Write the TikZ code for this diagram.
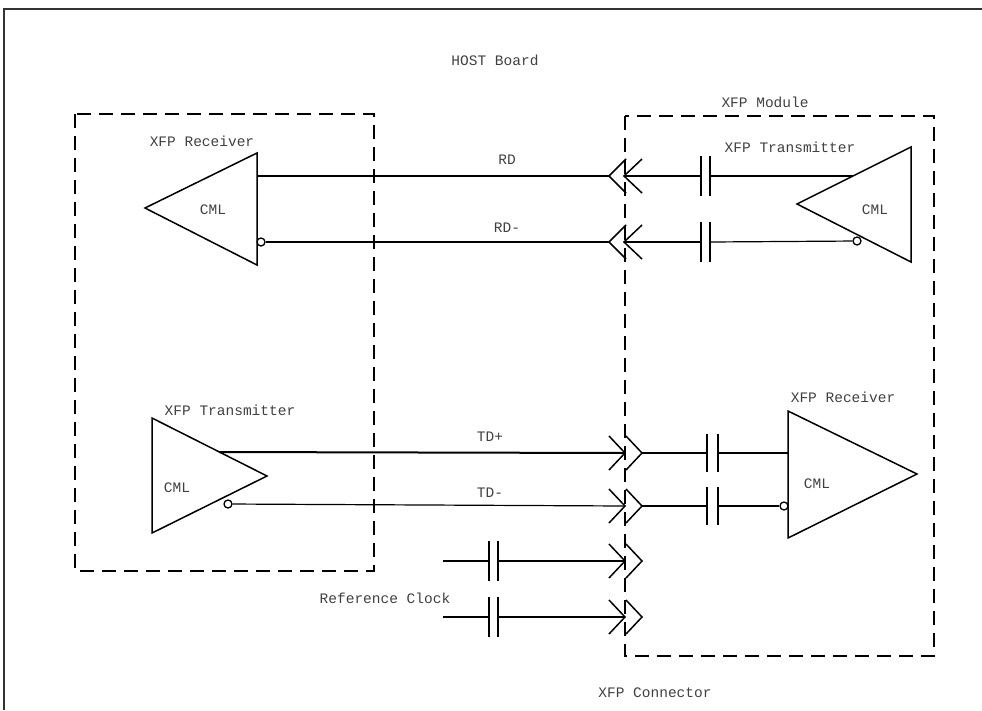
\documentclass[tikz,border=0pt]{standalone}
\usepackage{fontspec}
\setmonofont{Liberation Mono}
\usetikzlibrary{calc}
\begin{document}
\begin{tikzpicture}[x=1pt,y=-1pt,
  lbl/.style={font=\ttfamily\fontsize{14.5}{15}\selectfont, text=black!75, inner sep=0pt},
  frame/.style={line width=1.6pt, draw=black!80},
  dbox/.style={line width=1.8pt, dash pattern=on 14pt off 8pt},
  tri/.style={line width=1.5pt, line join=miter},
  wire/.style={line width=1.2pt},
  wthick/.style={line width=2pt},
  capplate/.style={line width=1.6pt},
  chev/.style={line width=1.5pt},
  bub/.style={circle, draw, line width=1.3pt, minimum size=8pt, inner sep=0pt, fill=white}]
\useasboundingbox (0,0) rectangle (982,710);
% outer frame (top and left only, cropped)
\draw[frame] (4,710) -- (4,9) -- (982,9);
% dashed boxes
\draw[dbox] (75,114) rectangle (374,571);
\draw[dbox] (625,116) rectangle (934,656);
% labels
\node[lbl] (host) at (495,60) {HOST Board};
\node[lbl] (mod) at (765,102) {XFP Module};
\node[lbl] (conn) at (655,693) {XFP Connector};
\node[lbl] (lrl) at (202,141) {XFP Receiver};
\node[lbl] (rtl) at (790,147) {XFP Transmitter};
\node[lbl] (ltl) at (230,410) {XFP Transmitter};
\node[lbl] (rrl) at (843,397) {XFP Receiver};
\node[lbl] (rd) at (507,160) {RD};
\node[lbl] (rdm) at (507,228) {RD-};
\node[lbl] (tdp) at (490,437) {TD+};
\node[lbl] (tdm) at (490,493) {TD-};
\node[lbl] (refc) at (385,598) {Reference Clock};
% ---- Left receiver (points left)
\coordinate (lrA) at (145,208);
\coordinate (lrT) at (257,153);
\coordinate (lrB) at (257,265);
\draw[tri] (lrA) -- (lrT) -- (lrB) -- cycle;
\node[lbl] (lrc) at (213,210) {CML};
\coordinate (lrP) at (257,176);
\node[bub] (lrN) at (261,242) {};
% ---- Right transmitter (points left)
\coordinate (rtA) at (797,204);
\coordinate (rtT) at (911,147);
\coordinate (rtB) at (911,262);
\draw[tri] (rtA) -- (rtT) -- (rtB) -- cycle;
\node[lbl] (rtc) at (875,210) {CML};
\coordinate (rtP) at (853,176);
\node[bub] (rtN) at (857,241) {};
% ---- Left transmitter (points right)
\coordinate (ltA) at (267,476);
\coordinate (ltT) at (152,418);
\coordinate (ltB) at (152,533);
\draw[tri] (ltA) -- (ltT) -- (ltB) -- cycle;
\node[lbl] (ltc) at (177,488) {CML};
\coordinate (ltP) at (219,452);
\node[bub] (ltN) at (228,504) {};
% ---- Right receiver (points right)
\coordinate (rrA) at (917,474);
\coordinate (rrT) at (788,411);
\coordinate (rrB) at (788,538);
\draw[tri] (rrA) -- (rrT) -- (rrB) -- cycle;
\node[lbl] (rrc) at (817,484) {CML};
\coordinate (rrP) at (788,453);
\node[bub] (rrN) at (784,506) {};
% ---- RD lines (leftward, << chevrons)
\foreach \y/\nm/\st in {176/rdp/wthick, 242/rdn/wire}{
  \coordinate (\nm c1) at (609,\y);
  \coordinate (\nm c2) at (624,\y);
  \coordinate (\nm k1) at (701,\y);
  \coordinate (\nm k2) at (710,\y);
  \draw[chev] ($(\nm c1)+(17,-17)$) -- (\nm c1) -- ($(\nm c1)+(17,17)$);
  \draw[chev] ($(\nm c2)+(18,-17)$) -- (\nm c2) -- ($(\nm c2)+(18,17)$);
  \draw[capplate] ($(\nm k1)+(0,-20)$) -- ($(\nm k1)+(0,20)$);
  \draw[capplate] ($(\nm k2)+(0,-20)$) -- ($(\nm k2)+(0,20)$);
  \draw[\st] (\nm c2) -- (\nm k1);
}
\draw[wthick] (lrP) -- (rdpc1);
\draw[wthick] (rdpk2) -- (rtP);
\draw[wire] (lrN) -- (rdnc1);
\draw[wire] (rdnk2) -- (rtN);
% ---- TD lines and clock lines (rightward, >> chevrons)
\foreach \y/\nm in {453/tdp, 506/tdn, 561/ck1, 617/ck2}{
  \coordinate (\nm c1) at (625,\y);
  \coordinate (\nm c2) at (642,\y);
  \draw[chev] ($(\nm c1)+(-16,-17)$) -- (\nm c1) -- ($(\nm c1)+(-16,17)$);
  \draw[chev] ($(\nm c2)+(-16,-17)$) -- (\nm c2) -- ($(\nm c2)+(-16,17)$);
}
\coordinate (tdpk1) at (707,453);
\coordinate (tdpk2) at (718,453);
\coordinate (tdnk1) at (707,506);
\coordinate (tdnk2) at (718,506);
\foreach \nm in {tdpk1,tdpk2,tdnk1,tdnk2}{
  \draw[capplate] ($(\nm)+(0,-19)$) -- ($(\nm)+(0,19)$);
}
\draw[wthick] (ltP) -- (tdpc1);
\draw[wire] (tdpc2) -- (tdpk1);
\draw[wire] (tdpk2) -- (rrP);
\draw[wire] (ltN) -- (tdnc1);
\draw[wire] (tdnc2) -- (tdnk1);
\draw[wire] (tdnk2) -- (rrN);
% clock
\coordinate (ck1s) at (443,561);
\coordinate (ck1k1) at (489,561);
\coordinate (ck1k2) at (498,561);
\coordinate (ck2s) at (443,617);
\coordinate (ck2k1) at (489,617);
\coordinate (ck2k2) at (498,617);
\foreach \nm in {ck1k1,ck1k2,ck2k1,ck2k2}{
  \draw[capplate] ($(\nm)+(0,-20)$) -- ($(\nm)+(0,20)$);
}
\draw[wire] (ck1s) -- (ck1k1);
\draw[wire] (ck1k2) -- (ck1c1);
\draw[wire] (ck2s) -- (ck2k1);
\draw[wire] (ck2k2) -- (ck2c1);
\end{tikzpicture}
\end{document}
